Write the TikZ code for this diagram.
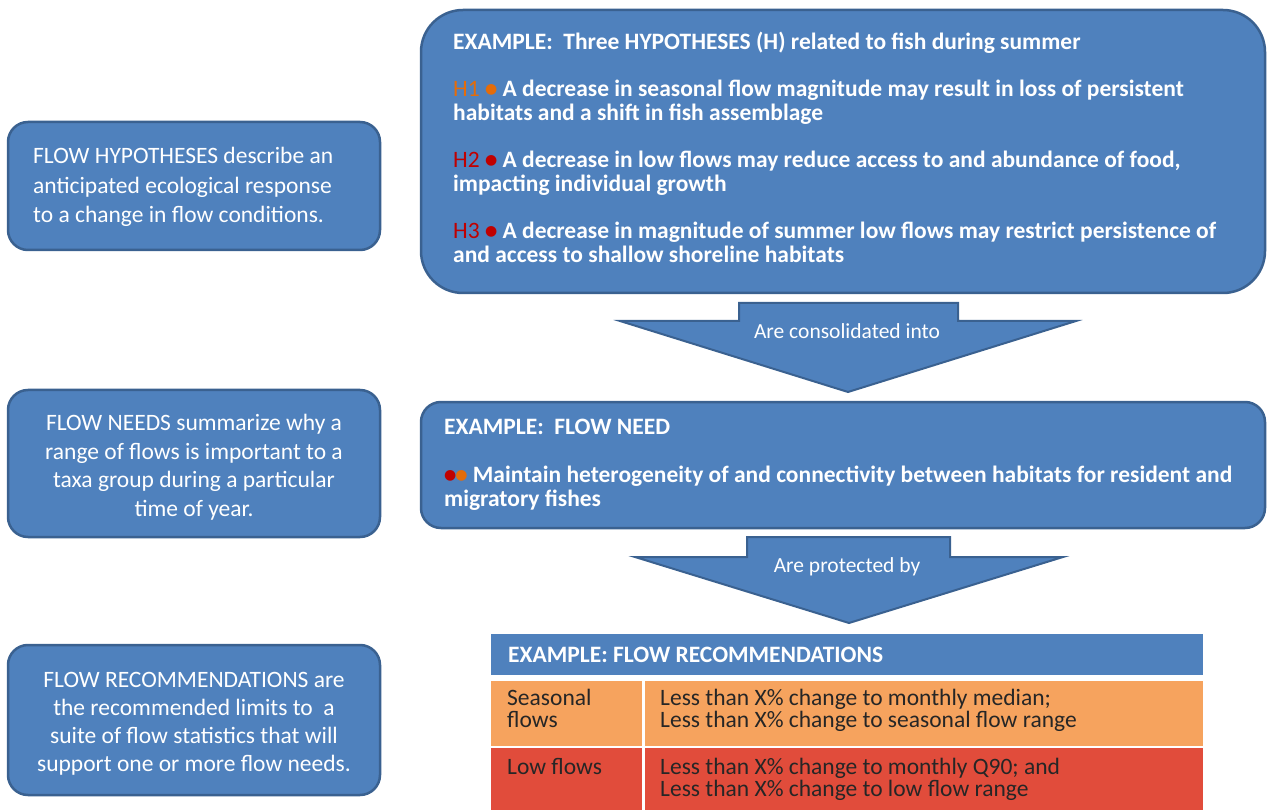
\documentclass[tikz,border=0pt]{standalone}
\usepackage{fontspec}
\setmainfont{Carlito}
\newfontfamily\dv{DejaVu Sans}
\definecolor{boxblue}{HTML}{4F81BD}
\definecolor{boxborder}{HTML}{3A6190}
\definecolor{hone}{HTML}{E46C0A}
\definecolor{htwo}{HTML}{C00000}
\definecolor{rowor}{HTML}{F6A35E}
\definecolor{rowred}{HTML}{E14C3B}
\newcommand{\dotc}[1]{{\color{#1}\raisebox{3.5pt}{\dv\fontsize{14}{14}\selectfont ●}}}
\begin{document}
\begin{tikzpicture}[x=1pt,y=-1pt,
  box/.style={draw=boxborder, line width=2.5pt, fill=boxblue, rounded corners=20pt},
  bigbox/.style={box, rounded corners=42pt},
  blockarrow/.style={draw=boxborder, line width=2pt, fill=boxblue, line join=miter},
  lt/.style={text=white, font=\fontsize{23.5}{29.5}\selectfont, inner sep=0pt},
  rt/.style={text=white, font=\bfseries\fontsize{23.5}{23.5}\selectfont, inner sep=0pt, align=left, anchor=base west},
  lab/.style={text=white, font=\fontsize{21.5}{22}\selectfont, inner sep=0pt, anchor=base},
  tt/.style={text=black!85, font=\fontsize{23.5}{22}\selectfont, inner sep=0pt, align=left, anchor=base west}]
\useasboundingbox (0,0) rectangle (1267,810);

% left boxes (base anchor = baseline of last line)
\draw[box] (8,122) rectangle (380,250);
\node[lt, align=left, anchor=base west] (lh) at (33,223) {FLOW HYPOTHESES describe an\\anticipated ecological response\\to a change in flow conditions.};
\draw[box] (8,390) rectangle (380,537);
\node[lt, align=center, anchor=base, font=\fontsize{23.5}{28.5}\selectfont] (ln) at (194,516) {FLOW NEEDS summarize why a\\range of flows is important to a\\taxa group during a particular\\time of year.};
\draw[box] (8,645) rectangle (380,795);
\node[lt, align=center, anchor=base, font=\fontsize{23.5}{28}\selectfont] (lr) at (194,771.5) {FLOW RECOMMENDATIONS are\\the recommended limits to\ \ a\\suite of flow statistics that will\\support one or more flow needs.};

% hypotheses box
\draw[bigbox] (421,10) rectangle (1265,293);
\node[rt] (hx) at (453,50) {EXAMPLE:\ \ Three HYPOTHESES (H) related to fish during summer};
\node[rt] (h1) at (453,120.5) {{\color{hone}\mdseries H1} \dotc{hone} A decrease in seasonal flow magnitude may result in loss of persistent\\habitats and a shift in fish assemblage};
\node[rt] (h2) at (453,191.5) {{\color{htwo}\mdseries H2} \dotc{htwo} A decrease in low flows may reduce access to and abundance of food,\\impacting individual growth};
\node[rt] (h3) at (453,262.5) {{\color{htwo}\mdseries H3} \dotc{htwo} A decrease in magnitude of summer low flows may restrict persistence of\\and access to shallow shoreline habitats};

% arrow 1
\draw[blockarrow] (739,303) -- (958,303) -- (958,321) -- (1076,321) -- (848,392) -- (620,321) -- (739,321) -- cycle;
\node[lab] (a1) at (847,339) {Are consolidated into};

% flow need box
\draw[box] (421,402) rectangle (1265,528);
\node[rt] (nx) at (444,435) {EXAMPLE:\ \ FLOW NEED};
\node[rt] (n1) at (444,506) {\dotc{htwo}\hspace{-1pt}\dotc{hone} Maintain heterogeneity of and connectivity between habitats for resident and\\migratory fishes};

% arrow 2
\draw[blockarrow] (747,537) -- (950,537) -- (950,557) -- (1063,557) -- (849,623) -- (635,557) -- (747,557) -- cycle;
\node[lab] (a2) at (847,572) {Are protected by};

% table
\fill[boxblue] (491,634) rectangle (1203,675);
\fill[rowor] (491,681) rectangle (642,746);
\fill[rowor] (645,681) rectangle (1203,746);
\fill[rowred] (491,748) rectangle (642,810);
\fill[rowred] (645,748) rectangle (1203,810);
\node[tt, text=white, font=\bfseries\fontsize{23.5}{22}\selectfont] (tx) at (508,662) {EXAMPLE: FLOW RECOMMENDATIONS};
\node[tt] (s1) at (507,727) {Seasonal\\flows};
\node[tt] (s2) at (660,727) {Less than X\% change to monthly median;\\Less than X\% change to seasonal flow range};
\node[tt] (l1) at (507,774) {Low flows};
\node[tt] (l2) at (660,796) {Less than X\% change to monthly Q90; and\\Less than X\% change to low flow range};
\end{tikzpicture}
\end{document}
